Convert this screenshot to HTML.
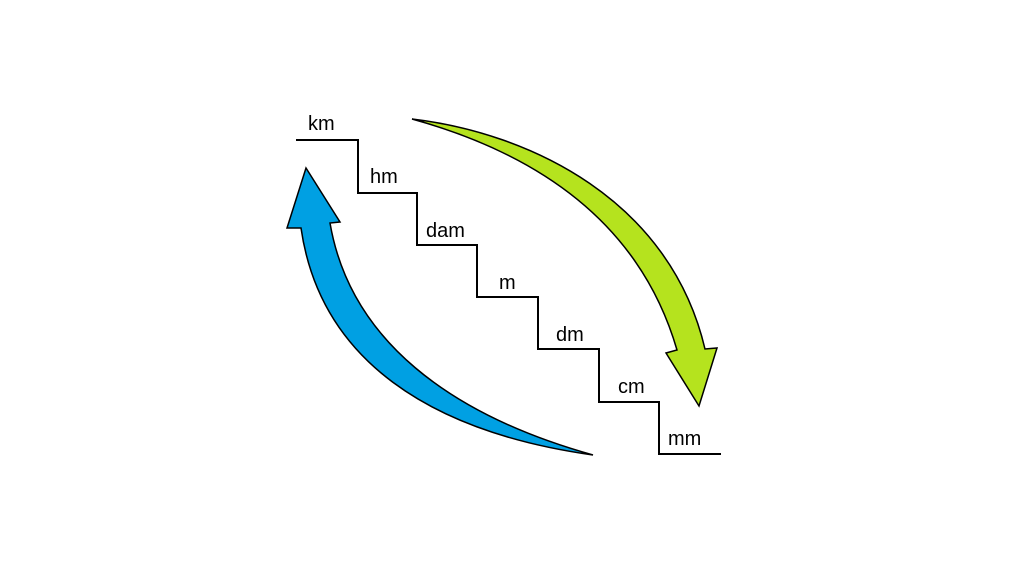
<!DOCTYPE html>
<html><head><style>
body{margin:0;width:1024px;height:576px;background:#fff;overflow:hidden}
svg{display:block}
text{font-family:"Liberation Sans",sans-serif;font-size:20px;fill:#000}
</style></head><body>
<svg width="1024" height="576" viewBox="0 0 1024 576">
<path d="M296,140 H358 V193 H417 V245 H477 V297 H538 V349 H599 V402 H659 V454 H721" fill="none" stroke="#000" stroke-width="2"/>
<text x="308" y="130">km</text>
<text x="370" y="183">hm</text>
<text x="426" y="237">dam</text>
<text x="499" y="289">m</text>
<text x="556" y="341">dm</text>
<text x="618" y="393">cm</text>
<text x="668" y="445">mm</text>
<path d="M412,119 C530,133 670,200 705,349 L717,348 L699,406 L666,353 L677,350 C645,240 560,160 412,119 Z" fill="#b5e31e" stroke="#000" stroke-width="1.5"/>
<path d="M593,455 C430,432 320,360 301,228 L287,228 L306,168 L340,222 L330,223 C350,340 450,415 593,455 Z" fill="#00a0e3" stroke="#000" stroke-width="1.5"/>
</svg>
</body></html>
